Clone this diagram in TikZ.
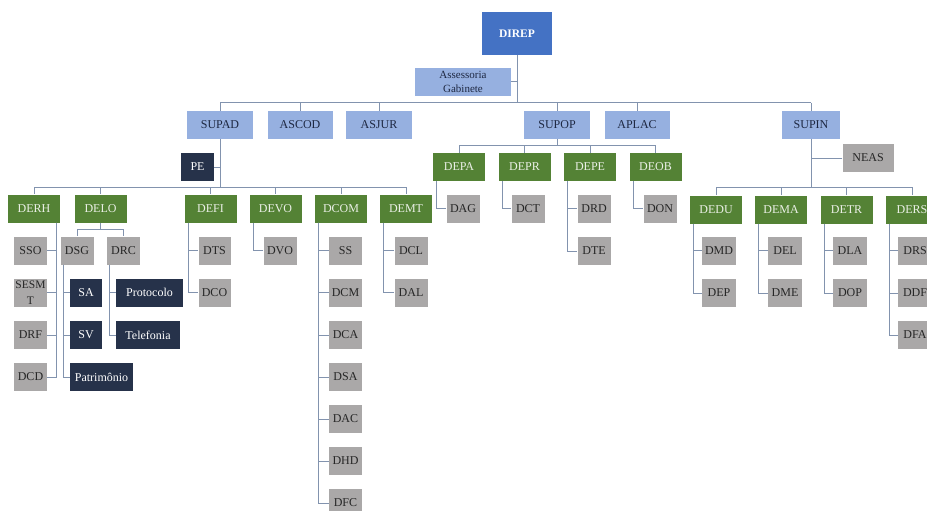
\documentclass[tikz,border=0pt]{standalone}
\usepackage{fontspec}
\setmainfont{Liberation Serif}
\usepackage{xcolor}
\usepackage{tikz}
\usetikzlibrary{positioning}
\definecolor{DirBlue}{RGB}{68,114,196}
\definecolor{SupBlue}{RGB}{150,176,224}
\definecolor{DepGreen}{RGB}{84,130,53}
\definecolor{DivGray}{RGB}{170,168,168}
\definecolor{SetNavy}{RGB}{38,50,74}
\definecolor{LineBlue}{RGB}{130,147,174}
\definecolor{TextDark}{RGB}{30,40,66}
\tikzset{
    caixa/.style={rectangle, inner sep=0pt, minimum height=28pt, font=\fontsize{12}{13}\selectfont},
    ligacao/.style={draw=LineBlue, line width=1pt}
}

\begin{document}
\begin{tikzpicture}[
                x=1pt, y=-1pt,
                direcao/.style={caixa, fill=DirBlue, text=white, font=\bfseries\fontsize{11.5}{12}\selectfont, minimum width=70pt, minimum height=43pt},
                superint/.style={caixa, fill=SupBlue, text=TextDark, minimum width=66pt},
                depto/.style={caixa, fill=DepGreen, text=white!88!DepGreen, minimum width=52pt},
                divisao/.style={caixa, fill=DivGray, text=black!85, minimum width=33pt},
                setor/.style={caixa, fill=SetNavy, text=white, minimum width=33pt}
            ]
                \useasboundingbox (0,0) rectangle (927,511);
                \clip (0,0) rectangle (927,511);
                % Direção
                \node[direcao] (direp) at (517,33.5) {DIREP};
                \node[superint, minimum width=96pt, align=center, font=\fontsize{11}{12.5}\selectfont] (assess) at (463,82) {Assessoria\\[1pt]Gabinete};
                % Superintendências e assessorias
                \node[superint] (supad) at (220,125) {SUPAD};
                \node[superint, minimum width=65pt] (ascod) at (300,125) {ASCOD};
                \node[superint] (asjur) at (379,125) {ASJUR};
                \node[superint] (supop) at (557,125) {SUPOP};
                \node[superint, minimum width=65pt] (aplac) at (637,125) {APLAC};
                \node[superint, minimum width=58pt] (supin) at (811,125) {SUPIN};
                \node[setor] (pe) at (197.5,167) {PE};
                \node[divisao, minimum width=51pt] (neas) at (868,158) {NEAS};
                % Departamentos SUPAD
                \node[depto] (derh) at (34,208.5) {DERH};
                \node[depto] (delo) at (100.5,208.5) {DELO};
                \node[depto] (defi) at (210.5,208.5) {DEFI};
                \node[depto] (devo) at (275.5,208.5) {DEVO};
                \node[depto] (dcom) at (341,208.5) {DCOM};
                \node[depto] (demt) at (406,208.5) {DEMT};
                % Departamentos SUPOP
                \node[depto] (depa) at (459,167) {DEPA};
                \node[depto] (depr) at (524.5,167) {DEPR};
                \node[depto] (depe) at (590,167) {DEPE};
                \node[depto] (deob) at (655.5,167) {DEOB};
                % Departamentos SUPIN
                \node[depto] (dedu) at (716,209.5) {DEDU};
                \node[depto] (dema) at (781,209.5) {DEMA};
                \node[depto] (detr) at (846.5,209.5) {DETR};
                \node[depto] (ders) at (912,209.5) {DERS};
                % Divisões
                \node[divisao] (sso) at (30.5,250.5) {SSO};
                \node[divisao, align=center, font=\fontsize{11.5}{12.5}\selectfont] (sesmt) at (30.5,292.5) {SESM\\[3.5pt]T};
                \node[divisao] (drf) at (30.5,335) {DRF};
                \node[divisao] (dcd) at (30.5,377) {DCD};
                \node[divisao] (dsg) at (77,250.5) {DSG};
                \node[divisao] (drc) at (123.5,250.5) {DRC};
                \node[setor, minimum width=32pt] (sa) at (86,292.5) {SA};
                \node[setor, minimum width=32pt] (sv) at (86,335) {SV};
                \node[setor, minimum width=63pt] (patrim) at (101.5,377) {Patrimônio};
                \node[setor, minimum width=67pt] (protoc) at (149.5,292.5) {Protocolo};
                \node[setor, minimum width=64pt] (telef) at (148,335) {Telefonia};
                \node[divisao, minimum width=32pt] (dts) at (214.5,250.5) {DTS};
                \node[divisao, minimum width=32pt] (dco) at (214.5,292.5) {DCO};
                \node[divisao] (dvo) at (280,250.5) {DVO};
                \node[divisao] (ss) at (345.5,250.5) {SS};
                \node[divisao] (dcm) at (345.5,292.5) {DCM};
                \node[divisao] (dca) at (345.5,335) {DCA};
                \node[divisao] (dsa) at (345.5,377) {DSA};
                \node[divisao] (dac) at (345.5,419) {DAC};
                \node[divisao] (dhd) at (345.5,461) {DHD};
                \node[divisao] (dfc) at (345.5,503) {DFC};
                \node[divisao] (dcl) at (411,250.5) {DCL};
                \node[divisao] (dal) at (411,292.5) {DAL};
                \node[divisao] (dag) at (463,208.5) {DAG};
                \node[divisao] (dct) at (528,208.5) {DCT};
                \node[divisao] (drd) at (594,208.5) {DRD};
                \node[divisao] (dte) at (594,251) {DTE};
                \node[divisao] (don) at (660,208.5) {DON};
                \node[divisao, minimum width=34pt] (dmd) at (719,250.5) {DMD};
                \node[divisao, minimum width=34pt] (dep) at (719,293) {DEP};
                \node[divisao, minimum width=34pt] (del) at (785,250.5) {DEL};
                \node[divisao, minimum width=34pt] (dme) at (785,293) {DME};
                \node[divisao, minimum width=34pt] (dla) at (850,250.5) {DLA};
                \node[divisao, minimum width=34pt] (dop) at (850,293) {DOP};
                \node[divisao, minimum width=34pt] (drs) at (915,250.5) {DRS};
                \node[divisao, minimum width=34pt] (ddf) at (915,293) {DDF};
                \node[divisao, minimum width=34pt] (dfa) at (915,335) {DFA};
                % Barras de ligação
                \coordinate (barra0) at (517,103);
                \coordinate (barra1) at (220,187);
                \coordinate (barra2) at (557,145.5);
                \coordinate (barra3) at (811,187);
                \coordinate (barra4) at (100.5,229.5);
                \draw[ligacao] (direp.south) -- (barra0);
                \draw[ligacao] (assess.east) -- (direp.south |- assess.east);
                \draw[ligacao] (supad.north |- barra0) -- (supin.north |- barra0);
                \foreach \s in {supad,ascod,asjur,supop,aplac,supin}
                    \draw[ligacao] (\s.north |- barra0) -- (\s.north);
                % SUPAD
                \draw[ligacao] (supad.south) -- (barra1);
                \draw[ligacao] (pe.east) -- (supad.south |- pe.east);
                \draw[ligacao] (derh.north |- barra1) -- (demt.north |- barra1);
                \foreach \s in {derh,delo,defi,devo,dcom,demt}
                    \draw[ligacao] (\s.north |- barra1) -- (\s.north);
                % SUPOP
                \draw[ligacao] (supop.south) -- (barra2);
                \draw[ligacao] (depa.north |- barra2) -- (deob.north |- barra2);
                \foreach \s in {depa,depr,depe,deob}
                    \draw[ligacao] (\s.north |- barra2) -- (\s.north);
                % SUPIN
                \draw[ligacao] (supin.south) -- (barra3);
                \draw[ligacao] (neas.west) -- (supin.south |- neas.west);
                \draw[ligacao] (dedu.north |- barra3) -- (ders.north |- barra3);
                \foreach \s in {dedu,dema,detr,ders}
                    \draw[ligacao] (\s.north |- barra3) -- (\s.north);
                % DELO
                \draw[ligacao] (delo.south) -- (barra4);
                \draw[ligacao] (dsg.north |- barra4) -- (drc.north |- barra4);
                \foreach \s in {dsg,drc}
                    \draw[ligacao] (\s.north |- barra4) -- (\s.north);
                % Ligações laterais
                \foreach \c in {sso,sesmt,drf,dcd}
                    \draw[ligacao] ([xshift=-3.5pt]derh.south east) |- (\c.east);
                \foreach \c in {sa,sv,patrim}
                    \draw[ligacao] ([xshift=3pt]dsg.south west) |- (\c.west);
                \foreach \c in {protoc,telef}
                    \draw[ligacao] ([xshift=3pt]drc.south west) |- (\c.west);
                \foreach \c in {dts,dco}
                    \draw[ligacao] ([xshift=4pt]defi.south west) |- (\c.west);
                \draw[ligacao] ([xshift=4pt]devo.south west) |- (dvo.west);
                \foreach \c in {ss,dcm,dca,dsa,dac,dhd,dfc}
                    \draw[ligacao] ([xshift=4pt]dcom.south west) |- (\c.west);
                \foreach \c in {dcl,dal}
                    \draw[ligacao] ([xshift=4pt]demt.south west) |- (\c.west);
                \draw[ligacao] ([xshift=4pt]depa.south west) |- (dag.west);
                \draw[ligacao] ([xshift=4pt]depr.south west) |- (dct.west);
                \foreach \c in {drd,dte}
                    \draw[ligacao] ([xshift=4pt]depe.south west) |- (\c.west);
                \draw[ligacao] ([xshift=4pt]deob.south west) |- (don.west);
                \foreach \c in {dmd,dep}
                    \draw[ligacao] ([xshift=4pt]dedu.south west) |- (\c.west);
                \foreach \c in {del,dme}
                    \draw[ligacao] ([xshift=4pt]dema.south west) |- (\c.west);
                \foreach \c in {dla,dop}
                    \draw[ligacao] ([xshift=4pt]detr.south west) |- (\c.west);
                \foreach \c in {drs,ddf,dfa}
                    \draw[ligacao] ([xshift=4pt]ders.south west) |- (\c.west);
            \end{tikzpicture}
\end{document}
